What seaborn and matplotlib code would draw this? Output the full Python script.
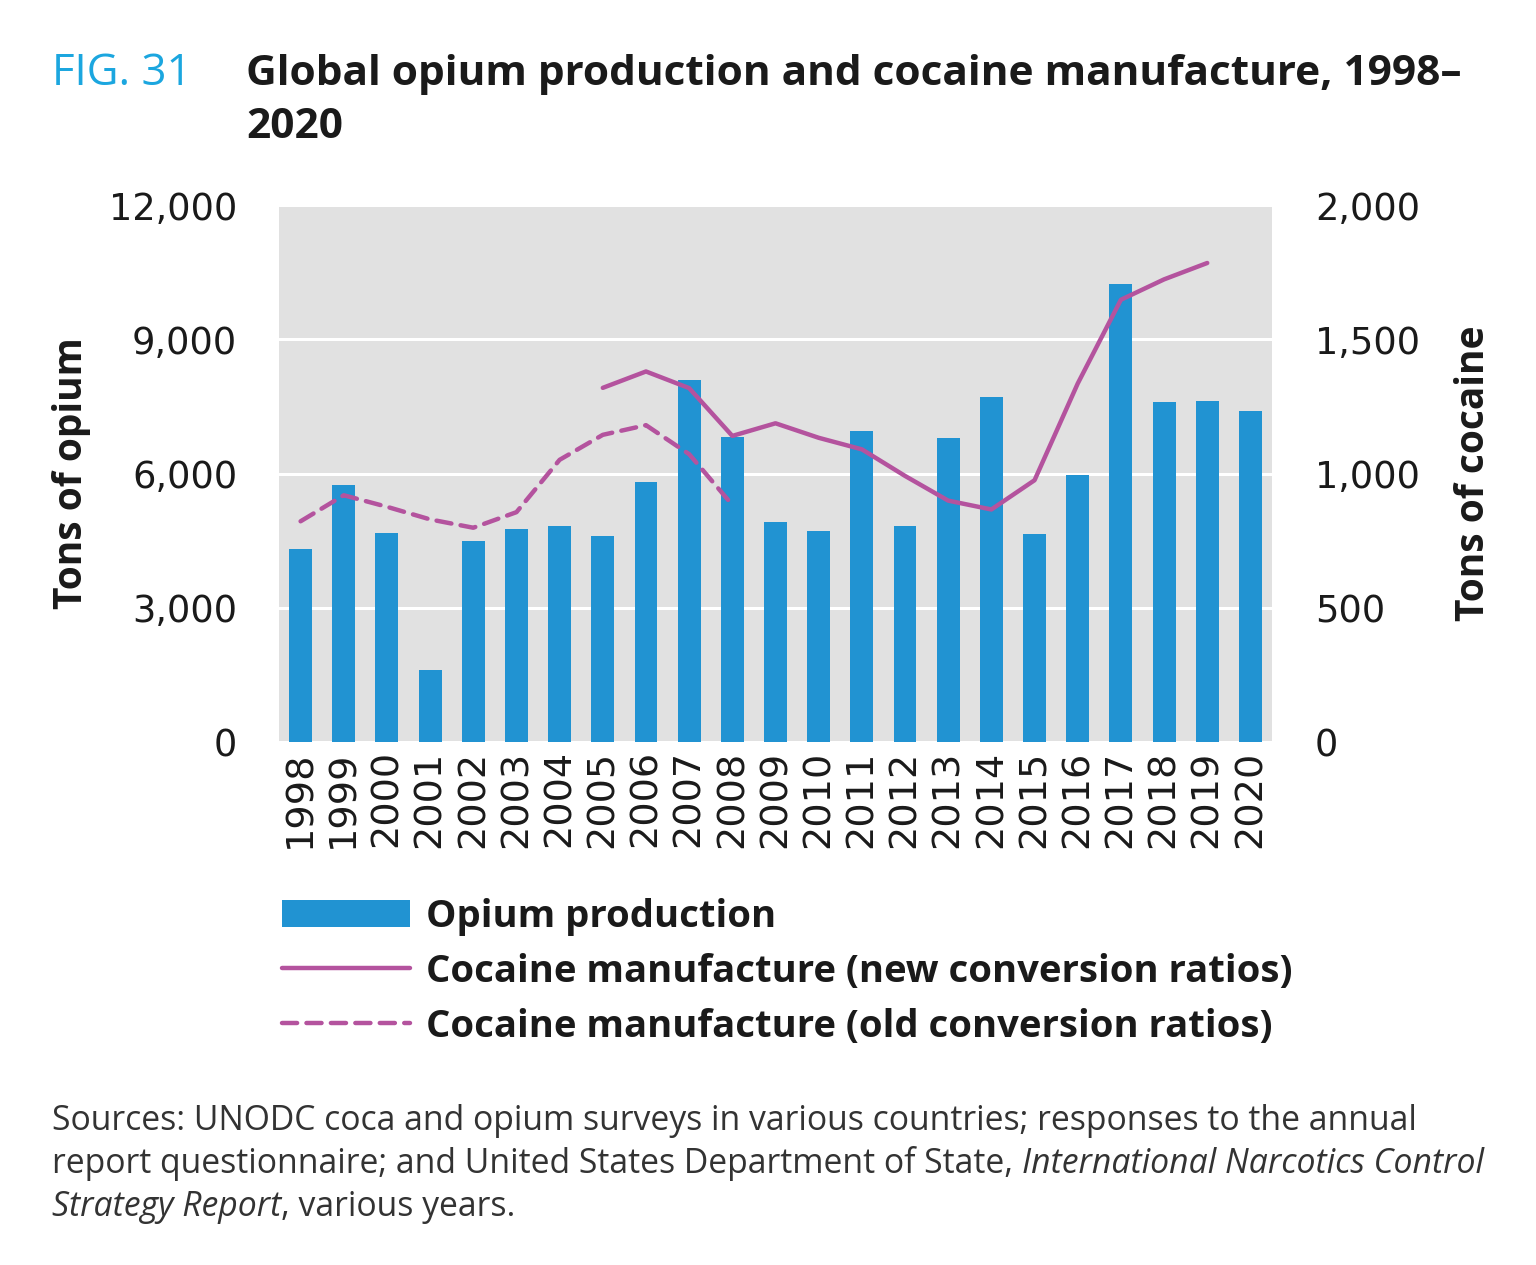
import numpy as np
import pandas as pd
import matplotlib
matplotlib.use("Agg")
import matplotlib.pyplot as plt
import seaborn as sns
from matplotlib.patches import Patch
from matplotlib.lines import Line2D
from matplotlib.ticker import FuncFormatter, FixedLocator

# ---------------- data ----------------
years = list(range(1998, 2021))
opium = [4320, 5740, 4660, 1610, 4500, 4760, 4830, 4600, 5810, 8080, 6820, 4920,
         4710, 6960, 4820, 6800, 7720, 4650, 5960, 10240, 7590, 7610, 7400]
cocaine_new_years = list(range(2005, 2020))
cocaine_new = [1319, 1380, 1318, 1140, 1187, 1133, 1090, 991, 899, 866, 975,
               1335, 1647, 1723, 1784]
cocaine_old_years = list(range(1998, 2009))
cocaine_old = [822, 919, 876, 829, 798, 856, 1051, 1144, 1180, 1072, 883]
left_ticks = [0, 3000, 6000, 9000, 12000]
right_ticks = [0, 500, 1000, 1500, 2000]

legend_labels = ["Opium production",
                 "Cocaine manufacture (new conversion ratios)",
                 "Cocaine manufacture (old conversion ratios)"]

BAR = "#2193D2"
LINE = "#B4539E"
BG = "#E1E1E1"
FIGBLUE = "#1BA6DF"
TXT = "#1a1a1a"

W, H = 1536, 1265
DPI = 100

sns.set_style("white")
plt.rcParams["font.family"] = ["DejaVu Sans"]
plt.rcParams["lines.dashed_pattern"] = [3.4, 2.1]

fig = plt.figure(figsize=(W / DPI, H / DPI), dpi=DPI)
fig.patch.set_facecolor("white")

def fx(px):
    return px / W

def fy(py):
    return 1 - py / H

ax = fig.add_axes([fx(279), fy(742), (1272 - 279) / W, (742 - 205) / H])
ax.set_facecolor(BG)

df = pd.DataFrame({"year": [str(y) for y in years], "opium": opium})
sns.barplot(data=df, x="year", y="opium", ax=ax, color=BAR, width=0.53,
            saturation=1, edgecolor="none", zorder=2)
ax.set_xlim(-0.5, len(years) - 0.5)
ax.set_ylim(0, 12000)
ax.yaxis.set_major_locator(FixedLocator(left_ticks))
ax.yaxis.set_major_formatter(FuncFormatter(lambda v, p: f"{int(v):,}"))
ax.grid(axis="y", color="white", linewidth=2.2, zorder=0)
ax.grid(axis="x", visible=False)
ax.set_axisbelow(True)
for s in ax.spines.values():
    s.set_visible(False)
ax.tick_params(axis="y", length=0, pad=30, labelsize=26.5, labelcolor=TXT)
ax.tick_params(axis="x", length=0, pad=6, labelsize=27.5, labelrotation=90,
               labelcolor=TXT)
ax.set_xlabel("")
ax.set_ylabel("Tons of opium", fontsize=28, fontweight="bold",
              family="Open Sans", labelpad=13, color=TXT)

ax2 = ax.twinx()
pos = {y: i for i, y in enumerate(years)}
new_df = pd.DataFrame({"x": [pos[y] for y in cocaine_new_years], "v": cocaine_new})
old_df = pd.DataFrame({"x": [pos[y] for y in cocaine_old_years], "v": cocaine_old})
sns.lineplot(data=new_df, x="x", y="v", ax=ax2, color=LINE, linewidth=3.2,
             solid_capstyle="round", solid_joinstyle="round")
sns.lineplot(data=old_df, x="x", y="v", ax=ax2, color=LINE, linewidth=3.2,
             linestyle="--", dash_capstyle="round")
ax2.set_ylim(0, 2000)
ax2.set_xlim(-0.5, len(years) - 0.5)
ax2.yaxis.set_major_locator(FixedLocator(right_ticks))
ax2.yaxis.set_major_formatter(FuncFormatter(lambda v, p: f"{int(v):,}"))
for s in ax2.spines.values():
    s.set_visible(False)
ax2.tick_params(axis="y", length=0, pad=31, labelsize=26.5, labelcolor=TXT)
ax2.set_xlabel("")
ax2.set_ylabel("Tons of cocaine", fontsize=28, fontweight="bold",
               family="Open Sans", labelpad=24, color=TXT)
ax2.grid(False)

# legend
handles = [Patch(facecolor=BAR, edgecolor="none"),
           Line2D([], [], color=LINE, linewidth=3.2),
           Line2D([], [], color=LINE, linewidth=3.2, linestyle="--",
                  dash_capstyle="round")]
leg = fig.legend(handles, legend_labels, loc="upper left",
                 bbox_to_anchor=(fx(282), fy(898)), frameon=False,
                 prop={"family": "Open Sans", "weight": "bold", "size": 27.5},
                 handlelength=3.35, handleheight=0.72, handletextpad=0.42,
                 labelspacing=0.44, borderaxespad=0, borderpad=0)
for t in leg.get_texts():
    t.set_color(TXT)

# title
fig.text(fx(52), fy(85), "FIG. 31", color=FIGBLUE, fontsize=31.5,
         family="Open Sans", va="baseline", ha="left")
fig.text(fx(246), fy(85), "Global opium production and cocaine manufacture, 1998\u2013",
         color=TXT, fontsize=30.5, family="Open Sans", fontweight="bold",
         va="baseline", ha="left")
fig.text(fx(246), fy(138), "2020", color=TXT, fontsize=30.5,
         family="Open Sans", fontweight="bold", va="baseline", ha="left")

# sources with mixed italics
renderer = fig.canvas.get_renderer()
SRC = dict(fontsize=24.3, family="Open Sans", color="#333333", va="baseline", ha="left")

def seq(parts, x0, ybase):
    x = x0
    for txt, style in parts:
        t = fig.text(fx(x), fy(ybase), txt, style=style, **SRC)
        bb = t.get_window_extent(renderer=renderer)
        x += bb.width

seq([("Sources: UNODC coca and opium surveys in various countries; responses to the annual", "normal")], 52, 1130)
seq([("report questionnaire; and United States Department of State, ", "normal"),
     ("International Narcotics Control", "italic")], 52, 1173)
seq([("Strategy Report", "italic"), (", various years.", "normal")], 52, 1216)

fig.savefig("out.png", dpi=DPI, facecolor="white")
